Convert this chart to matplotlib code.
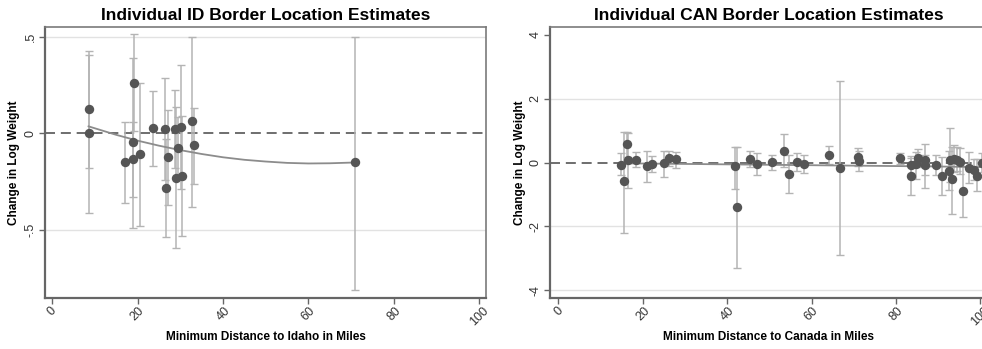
import numpy as np
import matplotlib
matplotlib.use("Agg")
import matplotlib.pyplot as plt

plt.rcParams['font.family'] = ['Liberation Sans', 'DejaVu Sans']

# Idaho border estimates
x_id  = [8.5, 8.6, 17.1, 18.8, 19.1, 19.0, 20.5, 23.5, 26.3, 27.1, 26.7, 28.7, 30.1, 29.4, 28.9, 30.3, 32.7, 33.2, 70.8]
y_id  = [0.124, 0.0, -0.150, -0.133, 0.262, -0.047, -0.109, 0.029, 0.024, -0.124, -0.281, 0.021, 0.031, -0.074, -0.229, -0.221, 0.064, -0.062, -0.150]
lo_id = [-0.18, -0.41, -0.36, -0.33, 0.012, -0.49, -0.48, -0.17, -0.24, -0.37, -0.535, -0.18, -0.29, -0.234, -0.595, -0.531, -0.38, -0.264, -0.81]
hi_id = [0.426, 0.405, 0.06, 0.06, 0.512, 0.39, 0.262, 0.219, 0.288, 0.12, -0.027, 0.224, 0.352, 0.086, 0.137, 0.089, 0.50, 0.132, 0.50]
fit_x_id = [8.5, 15, 20, 25, 30, 35, 40, 45, 50, 55, 60, 65, 70.8]
fit_y_id = [0.036, -0.008, -0.038, -0.064, -0.087, -0.107, -0.124, -0.137, -0.146, -0.153, -0.156, -0.155, -0.151]

# Canada border estimates
x_can  = [14.8, 15.6, 16.2, 16.4, 18.4, 21.1, 22.1, 25.0, 26.1, 27.9, 41.9, 42.4, 45.4, 47.0, 50.7,
          53.5, 54.7, 56.5, 58.3, 64.2, 66.8, 71.1, 71.3, 81.0, 83.5, 83.6, 84.8, 85.2, 86.9, 86.9,
          89.5, 90.9, 92.6, 92.8, 93.2, 93.7, 94.6, 95.2, 95.8, 97.4, 98.5, 99.3, 100.3]
y_can  = [-0.06, -0.58, 0.57, 0.07, 0.09, -0.12, -0.05, 0.0, 0.14, 0.11, -0.12, -1.39, 0.10, -0.03, 0.02,
          0.38, -0.34, 0.02, -0.03, 0.23, -0.17, 0.18, 0.05, 0.14, -0.08, -0.43, -0.05, 0.14, 0.07, -0.08,
          -0.06, -0.42, -0.26, 0.09, -0.50, 0.12, 0.09, 0.02, -0.90, -0.16, -0.24, -0.42, -0.01]
lo_can = [-0.40, -2.20, 0.17, -0.80, -0.15, -0.61, -0.30, -0.45, -0.10, -0.17, -0.81, -3.31, -0.15, -0.40, -0.24,
          -0.15, -0.95, -0.27, -0.32, -0.05, -2.90, -0.10, -0.25, -0.05, -0.35, -1.02, -0.50, -0.15, -0.78, -0.40,
          -0.40, -1.02, -0.85, -0.60, -1.62, -0.30, -0.25, -0.35, -1.70, -0.65, -0.55, -0.90, -0.30]
hi_can = [0.30, 0.96, 0.96, 0.94, 0.33, 0.37, 0.20, 0.36, 0.38, 0.33, 0.49, 0.49, 0.35, 0.30, 0.25,
          0.91, 0.23, 0.30, 0.23, 0.51, 2.55, 0.45, 0.35, 0.30, 0.20, 0.16, 0.32, 0.42, 0.59, 0.25,
          0.25, 0.18, 0.35, 1.09, 0.50, 0.55, 0.50, 0.45, -0.10, 0.33, 0.10, 0.10, 0.30]
fit_x_can = [14.8, 30, 45, 60, 75, 90, 100.3]
fit_y_can = [-0.02, -0.04, -0.06, -0.08, -0.10, -0.12, -0.14]

xticks = [0, 20, 40, 60, 80, 100]

panels = [
    dict(x=x_id, y=y_id, lo=lo_id, hi=hi_id, fx=fit_x_id, fy=fit_y_id,
         title="Individual ID Border Location Estimates",
         xlabel="Minimum Distance to Idaho in Miles",
         yticks=[0.5, 0, -0.5], ylabels=[".5", "0", "-.5"],
         xlim=(-1.7, 101.6), ylim=(-0.852, 0.55),
         rect=[45/982, 51/349, 441/982, 271/349]),
    dict(x=x_can, y=y_can, lo=lo_can, hi=hi_can, fx=fit_x_can, fy=fit_y_can,
         title="Individual CAN Border Location Estimates",
         xlabel="Minimum Distance to Canada in Miles",
         yticks=[4, 2, 0, -2, -4], ylabels=["4", "2", "0", "-2", "-4"],
         xlim=(-2.0, 101.6), ylim=(-4.24, 4.25),
         rect=[550/982, 51/349, 437/982, 271/349]),
]

fig = plt.figure(figsize=(9.82, 3.49), dpi=100)

for p in panels:
    ax = fig.add_axes(p['rect'])
    y = np.array(p['y'])
    yerr = [y - np.array(p['lo']), np.array(p['hi']) - y]

    # light grid at the labelled y values (not at 0, and not at the very top of CAN)
    for t in p['yticks']:
        if t != 0 and t != 4:
            ax.axhline(t, color='#e2e2e2', lw=1.0, zorder=0)
    ax.axhline(0, color='#555555', lw=1.2, dashes=(6, 3.5), zorder=1)

    ax.errorbar(p['x'], y, yerr=yerr, fmt='none', ecolor='#b4b4b4', elinewidth=1.1,
                capsize=3, capthick=1.0, zorder=2)
    ax.plot(p['fx'], p['fy'], color='#8c8c8c', lw=1.3, zorder=3)
    ax.scatter(p['x'], y, s=46, color='#555555', zorder=4, linewidths=0)

    ax.set_xlim(*p['xlim'])
    ax.set_ylim(*p['ylim'])
    ax.set_xticks(xticks)
    ax.set_xticklabels([str(t) for t in xticks], rotation=45, ha='center', va='top',
                       fontsize=9, color='#333333')
    ax.set_yticks(p['yticks'])
    ax.set_yticklabels(p['ylabels'], rotation=90, va='center', fontsize=9, color='#333333')
    ax.tick_params(direction='out', length=4, width=1, color='#666666', pad=2)
    ax.tick_params(axis='x', pad=1)

    for side in ['left', 'bottom']:
        ax.spines[side].set_color('#666666')
        ax.spines[side].set_linewidth(1.6)
    for side in ['top', 'right']:
        ax.spines[side].set_color('#7a7a7a')
        ax.spines[side].set_linewidth(1.2)

    ax.set_title(p['title'], fontsize=12.5, fontweight='bold', pad=5)
    ax.set_xlabel(p['xlabel'], fontsize=8.5, fontweight='bold', labelpad=2)
    ax.set_ylabel("Change in Log Weight", fontsize=8.5, fontweight='bold', labelpad=3)

fig.savefig("out.png", dpi=100, facecolor='white')
